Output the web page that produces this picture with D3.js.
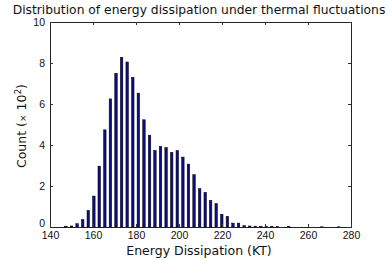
<!DOCTYPE html>
<html>
<head>
<meta charset="utf-8">
<script src="https://cdn.jsdelivr.net/npm/d3@7"></script>
<style>
  body { margin: 0; background: #fff; }
  svg { display: block; }
</style>
</head>
<body>
<svg id="chart" width="388" height="259"></svg>
<script>
// histogram bin centers (KT) and counts (x 10^2)
const binCenters = [147.4, 150.0, 152.6, 155.2, 157.8, 160.4, 162.9, 165.5, 168.1, 170.7,
                    173.3, 175.9, 178.5, 181.1, 183.7, 186.3, 188.8, 191.4, 194.0, 196.6,
                    199.2, 201.8, 204.4, 207.0, 209.6, 212.2, 214.7, 217.3, 219.9, 222.5,
                    225.1, 227.7, 230.3, 232.9, 235.5, 238.1, 240.6, 243.2, 245.8, 248.4,
                    251.0, 253.6, 256.2, 258.8, 261.4, 264.0, 266.5, 269.1, 271.7, 274.3];
const counts = [0.04, 0.05, 0.16, 0.36, 0.81, 1.51, 2.97, 4.74, 6.25, 7.5,
                8.28, 8.05, 7.3, 6.53, 5.23, 4.48, 3.73, 3.93, 3.88, 3.64,
                3.73, 3.41, 3.07, 2.55, 1.87, 1.69, 1.3, 1.14, 0.62, 0.52,
                0.19, 0.19, 0.07, 0.05, 0.04, 0.03, 0.03, 0.02, 0.02, 0,
                0.02, 0, 0, 0, 0, 0, 0.01, 0, 0, 0.01];
const xTicks = [140, 160, 180, 200, 220, 240, 260, 280];
const yTicks = [0, 2, 4, 6, 8, 10];

const margin = {top: 22, right: 37, bottom: 32, left: 50};
const width = 388 - margin.left - margin.right;
const height = 259 - margin.top - margin.bottom;

const svg = d3.select("#chart");
const g = svg.append("g").attr("transform", `translate(${margin.left},${margin.top})`);

const x = d3.scaleLinear().domain([140, 280]).range([0, width]);
const y = d3.scaleLinear().domain([0, 10]).range([height, 0]);

const barW = 2.5;
g.selectAll(".bar")
    .data(counts)
    .enter()
    .append("rect")
    .attr("class", "bar")
    .attr("x", (d, i) => x(binCenters[i]) - barW / 2)
    .attr("y", d => y(d))
    .attr("width", barW)
    .attr("height", d => height - y(d))
    .attr("fill", "#0c0c86")
    .attr("stroke", "#000")
    .attr("stroke-width", 0.5);

// frame
g.append("rect")
    .attr("x", 0).attr("y", 0)
    .attr("width", width).attr("height", height)
    .attr("fill", "none")
    .attr("stroke", "#222")
    .attr("stroke-width", 1)
    .attr("shape-rendering", "crispEdges");

const tickLen = 3;
// inward ticks on all four sides
const xAxisB = d3.axisBottom(x).tickValues(xTicks).tickSizeInner(-tickLen).tickSizeOuter(0).tickPadding(4.5);
const xAxisT = d3.axisTop(x).tickValues(xTicks).tickSizeInner(-tickLen).tickSizeOuter(0).tickFormat("");
const yAxisL = d3.axisLeft(y).tickValues(yTicks).tickSizeInner(-tickLen).tickSizeOuter(0).tickPadding(5);
const yAxisR = d3.axisRight(y).tickValues(yTicks).tickSizeInner(-tickLen).tickSizeOuter(0).tickFormat("");

function styleAxis(sel) {
    sel.select(".domain").remove();
    sel.selectAll("line").attr("stroke", "#333").attr("shape-rendering", "crispEdges");
    sel.selectAll("text")
        .attr("fill", "#111")
        .style("font-family", "'Liberation Sans', Arial, sans-serif")
        .style("font-size", "10.5px");
}

g.append("g").attr("transform", `translate(0,${height})`).call(xAxisB).call(styleAxis);
g.append("g").call(xAxisT).call(styleAxis);
const yLeft = g.append("g").call(yAxisL).call(styleAxis);
// the "0" sits right on top of the "140" label, nudge it up a touch
yLeft.selectAll(".tick text").filter(d => d === 0).attr("dy", "-0.05em");
g.append("g").attr("transform", `translate(${width},0)`).call(yAxisR).call(styleAxis);

// title
svg.append("text")
    .attr("x", 199)
    .attr("y", 13.5)
    .attr("text-anchor", "middle")
    .style("font-family", "'DejaVu Sans', Verdana, sans-serif")
    .style("font-size", "12.3px")
    .attr("fill", "#111")
    .text("Distribution of energy dissipation under thermal fluctuations");

// x label
svg.append("text")
    .attr("x", 199)
    .attr("y", 255)
    .attr("text-anchor", "middle")
    .style("font-family", "'DejaVu Sans', Verdana, sans-serif")
    .style("font-size", "12.5px")
    .attr("fill", "#111")
    .text("Energy Dissipation (KT)");

// y label
const yl = svg.append("text")
    .attr("transform", `translate(26,${126}) rotate(-90)`)
    .attr("text-anchor", "middle")
    .style("font-family", "'DejaVu Sans', Verdana, sans-serif")
    .style("font-size", "12.5px")
    .attr("fill", "#111");
yl.append("tspan").text("Count (");
yl.append("tspan").style("font-size", "9px").attr("dy", -0.5).text("\u00d7");
yl.append("tspan").attr("dy", 0.5).text(" 10");
yl.append("tspan").style("font-size", "9px").attr("dy", -5).text("2");
yl.append("tspan").attr("dy", 5).text(")");
</script>
</body>
</html>
